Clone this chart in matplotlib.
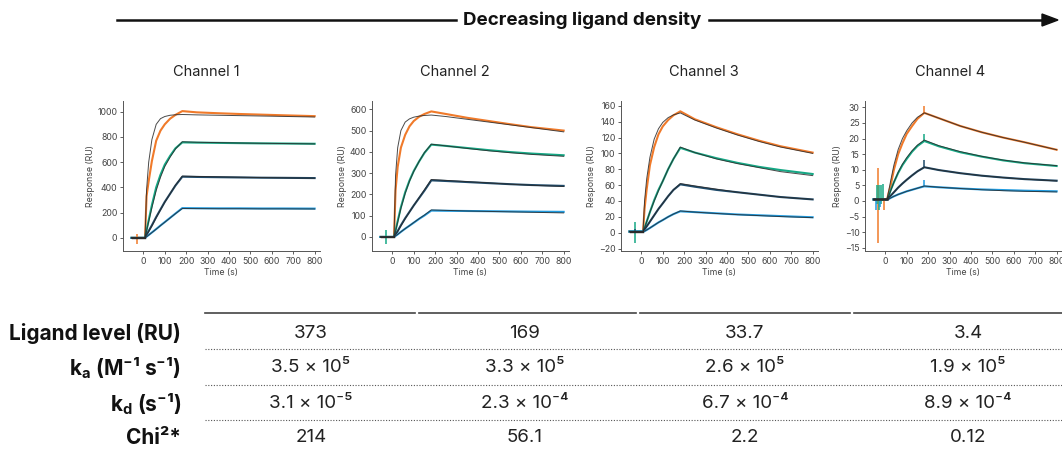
import matplotlib
matplotlib.use("Agg")
import matplotlib.pyplot as plt
from matplotlib.lines import Line2D

plt.rcParams['font.family'] = ['Inter', 'DejaVu Sans']
plt.rcParams['mathtext.default'] = 'regular'

# sensorgram time points (s)
T = [-55, 8, 15, 25, 40, 60, 80, 100, 125, 150, 182, 250, 350, 450, 550, 650, 800]

# measured responses (RU): orange, green, dark blue, light blue
ch1_data = [
    [0, 0, 330, 450, 610, 770, 850, 900, 945, 975, 1005, 995, 988, 982, 977, 972, 965],
    [0, 0, 60, 140, 260, 400, 500, 580, 650, 710, 757, 755, 753, 751, 749, 748, 746],
    [0, 0, 25, 55, 100, 165, 225, 285, 350, 415, 485, 483, 481, 479, 477, 476, 474],
    [0, 0, 10, 23, 43, 70, 98, 125, 159, 193, 236, 235, 234, 234, 233, 233, 232],
]
ch1_fit = [
    [0, 0, 380, 600, 780, 900, 945, 962, 972, 976, 978, 975, 972, 969, 966, 963, 958],
    [0, 0, 55, 130, 240, 375, 480, 565, 640, 705, 762, 758, 755, 752, 750, 748, 745],
    [0, 0, 22, 50, 95, 160, 222, 282, 350, 418, 490, 487, 484, 481, 478, 476, 473],
    [0, 0, 9, 22, 42, 69, 97, 124, 158, 192, 233, 232, 231, 231, 230, 230, 229],
]
ch2_data = [
    [0, 0, 220, 330, 420, 480, 520, 545, 565, 578, 590, 578, 560, 545, 530, 516, 500],
    [0, 0, 30, 75, 140, 210, 265, 310, 355, 395, 434, 428, 418, 408, 399, 392, 384],
    [0, 0, 12, 28, 55, 88, 118, 148, 183, 218, 266, 263, 258, 253, 248, 244, 240],
    [0, 0, 5, 12, 24, 39, 53, 67, 85, 101, 124, 123, 122, 121, 120, 119, 118],
]
ch2_fit = [
    [0, 0, 290, 420, 500, 540, 555, 563, 568, 571, 573, 566, 553, 540, 527, 514, 494],
    [0, 0, 28, 70, 135, 205, 262, 308, 355, 397, 436, 428, 416, 405, 396, 388, 379],
    [0, 0, 11, 26, 52, 86, 117, 148, 185, 222, 270, 266, 260, 254, 248, 243, 237],
    [0, 0, 5, 12, 24, 39, 53, 68, 86, 103, 127, 125, 122, 120, 118, 116, 113],
]
ch3_data = [
    [1.5, 1.5, 30, 55, 85, 108, 124, 134, 142, 148, 153, 143, 133, 124, 116, 109, 101],
    [1.5, 1.5, 6, 14, 26, 41, 54, 65, 80, 93, 107, 101, 94, 88, 83, 79, 74],
    [1.5, 1.5, 4, 8, 14, 22, 30, 37, 46, 54, 61, 58, 54, 51, 48, 45, 42],
    [1.5, 1.5, 2, 3.5, 6, 9.5, 13, 16, 20, 23.5, 27, 26, 24.5, 23, 22, 21, 19.5],
]
ch3_fit = [
    [1.5, 1.5, 40, 68, 95, 118, 131, 139, 145, 148.5, 151, 142, 132, 123, 115, 108, 100],
    [1.5, 1.5, 6, 14, 26, 40, 53, 65, 80, 93, 108, 101, 93, 87, 82, 77, 72],
    [1.5, 1.5, 4, 8, 14, 22, 30, 37, 46, 54, 62, 59, 55, 51, 48, 45, 42],
    [1.5, 1.5, 2, 3.5, 6, 9.5, 13, 16, 20, 23.5, 27.5, 26, 24.3, 22.8, 21.6, 20.4, 19],
]
ch4_data = [
    [0.5, 0.5, 2.5, 5, 10, 15, 18.5, 21.5, 24, 26.3, 28.2, 26.5, 24, 22, 20.3, 18.8, 16.4],
    [0.5, 0.5, 1.5, 3.5, 6, 9, 11.5, 13.5, 15.8, 17.6, 19.2, 17.5, 15.6, 14.2, 13, 12.1, 11.2],
    [0.5, 0.5, 0.9, 1.7, 2.8, 4.3, 5.6, 6.8, 8.2, 9.5, 10.8, 9.9, 8.9, 8.1, 7.5, 7, 6.5],
    [0.5, 0.5, 0.6, 1.0, 1.5, 2.1, 2.6, 3.1, 3.6, 4.1, 4.7, 4.4, 4.0, 3.7, 3.5, 3.3, 3.1],
]
ch4_fit = [
    [0.5, 0.5, 3, 6.5, 11.5, 16.5, 20, 22.5, 25, 26.8, 28.2, 26.5, 24, 22, 20.3, 18.8, 16.4],
    [0.5, 0.5, 1.5, 3.3, 6, 9.2, 11.8, 13.9, 16.1, 17.9, 19.5, 17.7, 15.8, 14.3, 13.1, 12.2, 11.3],
    [0.5, 0.5, 0.9, 1.7, 2.8, 4.3, 5.6, 6.8, 8.2, 9.5, 10.8, 9.9, 8.9, 8.1, 7.5, 7, 6.4],
    [0.5, 0.5, 0.6, 1.0, 1.5, 2.1, 2.6, 3.1, 3.6, 4.1, 4.8, 4.4, 4.0, 3.6, 3.3, 3.1, 2.9],
]

# injection spikes: (time, low, high, series index)
ch1_spikes = [(-30, -45, 34, 0)]
ch2_spikes = [(-30, -31, 35, 1)]
ch3_spikes = [(-30, -13.5, 13.5, 1), (-30, 0, 5, 2)]
ch4_spikes = [(-35, -13.5, 10.5, 0), (-5, -3, 1, 0), (-40, -1, 5, 1), (-28, -3, 5, 1),
              (-20, -1, 5, 1), (-10, 0, 5.5, 1), (-42, -3, 1, 3), (-25, -2, 1, 3),
              (182, 28, 30.5, 0), (182, 19, 21.5, 1), (182, 10.8, 13, 2), (182, 4.7, 6.8, 3)]

channels = ["Channel 1", "Channel 2", "Channel 3", "Channel 4"]
ylims = [(-104, 1085), (-66, 639), (-23, 166), (-16, 32)]
yticks = [range(0, 1001, 200), range(0, 601, 100), range(-20, 161, 20), range(-15, 31, 5)]

row_labels = ["Ligand level (RU)", "k$_a$ (M⁻¹ s⁻¹)", "k$_d$ (s⁻¹)", "Chi²*"]
ligand_level = ["373", "169", "33.7", "3.4"]
ka = ["3.5 × 10⁵", "3.3 × 10⁵", "2.6 × 10⁵", "1.9 × 10⁵"]
kd = ["3.1 × 10⁻⁵", "2.3 × 10⁻⁴", "6.7 × 10⁻⁴", "8.9 × 10⁻⁴"]
chi2 = ["214", "56.1", "2.2", "0.12"]

colors = ['#f07a2a', '#16a885', '#1e4a6a', '#1f9be0']
fit_color = '#2a2a2a'

W, H = 1062, 451
fig = plt.figure(figsize=(W / 100, H / 100), dpi=100)

ax_lefts = [123, 372, 621, 865]
ax_w, ax_top, ax_bot = 197, 101, 251
title_x = [206, 455, 704, 950]

all_data = [ch1_data, ch2_data, ch3_data, ch4_data]
all_fit = [ch1_fit, ch2_fit, ch3_fit, ch4_fit]
all_spikes = [ch1_spikes, ch2_spikes, ch3_spikes, ch4_spikes]

for i in range(4):
    ax = fig.add_axes([ax_lefts[i] / W, (H - ax_bot) / H, ax_w / W, (ax_bot - ax_top) / H])
    for j in range(4):
        ax.plot(T, all_data[i][j], color=colors[j], lw=1.5, solid_joinstyle='round')
    for (t, lo, hi, c) in all_spikes[i]:
        ax.vlines(t, lo, hi, color=colors[c], lw=1.1)
    for j in range(4):
        ax.plot(T, all_fit[i][j], color=fit_color, lw=0.7, alpha=0.85)
    ax.plot(T[:2], all_fit[i][0][:2], color=fit_color, lw=1.8 if i == 3 else 1.0)
    ax.set_xlim(-95, 825)
    ax.set_ylim(*ylims[i])
    ax.set_xticks(range(0, 801, 100))
    ax.set_yticks(list(yticks[i]))
    for s in ['top', 'right']:
        ax.spines[s].set_visible(False)
    for s in ['left', 'bottom']:
        ax.spines[s].set_color('#555555')
        ax.spines[s].set_linewidth(0.7)
    ax.tick_params(labelsize=6.3, colors='#444444', length=2.5, width=0.6, pad=1.5)
    ax.set_xlabel("Time (s)", fontsize=6.3, color='#444444', labelpad=1.5)
    ax.set_ylabel("Response (RU)", fontsize=6.3, color='#444444', labelpad=2)
    fig.text(title_x[i] / W, 1 - 72 / H, channels[i], fontsize=10.5, ha='center', va='center',
             color='#222222')

# header arrow
fig.add_artist(Line2D([117 / W, 456 / W], [1 - 20 / H] * 2, color='#111111', lw=1.8,
                      transform=fig.transFigure))
fig.text(582 / W, 1 - 20 / H, "Decreasing ligand density", fontsize=13.5, fontweight='bold',
         ha='center', va='center', color='#111111')
fig.add_artist(Line2D([709 / W, 1045 / W], [1 - 20 / H] * 2, color='#111111', lw=1.8,
                      transform=fig.transFigure))
fig.patches.append(plt.Polygon([[1042 / W, 1 - 14 / H], [1058 / W, 1 - 20 / H], [1042 / W, 1 - 26 / H]],
                               closed=True, color='#111111', transform=fig.transFigure))

# table
col_x = [311, 525, 745, 968]
row_y = [333, 368, 404, 438]
rows = [ligand_level, ka, kd, chi2]
for seg in [(205, 415), (419, 636), (640, 850), (854, 1062)]:
    fig.add_artist(Line2D([seg[0] / W, seg[1] / W], [1 - 313 / H] * 2, color='#444444', lw=1.2,
                          transform=fig.transFigure))
for y in [349, 385, 420]:
    fig.add_artist(Line2D([205 / W, 1062 / W], [1 - y / H] * 2, color='#555555', lw=0.8,
                          ls=(0, (1, 1.5)), transform=fig.transFigure))
for r in range(4):
    fig.text(181 / W, 1 - row_y[r] / H, row_labels[r], fontsize=15, fontweight='bold',
             ha='right', va='center', color='#111111')
    for c in range(4):
        fig.text(col_x[c] / W, 1 - row_y[r] / H, rows[r][c], fontsize=13.5,
                 ha='center', va='center', color='#222222')

fig.savefig("out.png", dpi=100)
